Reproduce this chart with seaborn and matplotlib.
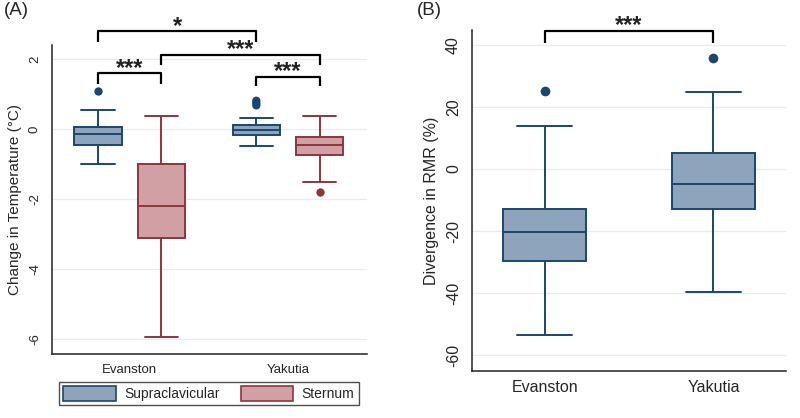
import pandas as pd
import seaborn as sns
import matplotlib.pyplot as plt
from matplotlib.patches import Patch

locations = ["Evanston", "Yakutia"]
sites = ["Supraclavicular", "Sternum"]

# panel A, change in temperature (°C): low whisker, Q1, median, Q3, high whisker
temp_evanston_supra = [-0.99, -0.45, -0.13, 0.07, 0.55]
temp_evanston_sternum = [-5.93, -3.10, -2.20, -0.99, 0.38]
temp_yakutia_supra = [-0.49, -0.18, -0.02, 0.11, 0.33]
temp_yakutia_sternum = [-1.51, -0.75, -0.46, -0.22, 0.38]
temp_out_evanston_supra = [1.10]
temp_out_yakutia_supra = [0.68, 0.74, 0.81]
temp_out_yakutia_sternum = [-1.79]

# panel B, divergence in RMR (%)
rmr_evanston = [-53.5, -29.8, -20.2, -12.9, 13.8]
rmr_yakutia = [-39.6, -13.0, -4.7, 5.2, 24.8]
rmr_out_evanston = [25.0]
rmr_out_yakutia = [35.7]

fill_colors = {"Supraclavicular": "#8ea4bc", "Sternum": "#d0a0a5"}
edge_colors = {"Supraclavicular": "#1a476f", "Sternum": "#90353b"}


def long_frame(pieces):
    rows = []
    for loc, site, vals in pieces:
        rows += [{"location": loc, "site": site, "value": v} for v in vals]
    return pd.DataFrame(rows)


def bracket(ax, x0, x1, y_top, y_leg, label, size=17):
    ax.plot([x0, x0, x1, x1], [y_leg, y_top, y_top, y_leg], color="black",
            lw=1.6, clip_on=False, solid_capstyle="butt")
    ax.annotate(label, xy=((x0 + x1) / 2, y_top), xytext=(0, -1),
                textcoords="offset points", ha="center", va="baseline",
                fontsize=size, fontweight="bold", color="#222222",
                annotation_clip=False)


sns.set_style("white")
plt.rcParams["font.family"] = ["Liberation Sans", "DejaVu Sans"]
plt.rcParams["axes.unicode_minus"] = False

fig = plt.figure(figsize=(8, 4.18), dpi=100)
ax_a = fig.add_axes([0.065, 0.153, 0.394, 0.739])
ax_b = fig.add_axes([0.590, 0.113, 0.3925, 0.815])

box_a = long_frame([
    ("Evanston", "Supraclavicular", temp_evanston_supra),
    ("Evanston", "Sternum", temp_evanston_sternum),
    ("Yakutia", "Supraclavicular", temp_yakutia_supra),
    ("Yakutia", "Sternum", temp_yakutia_sternum),
])
out_a = long_frame([
    ("Evanston", "Supraclavicular", temp_out_evanston_supra),
    ("Yakutia", "Supraclavicular", temp_out_yakutia_supra),
    ("Yakutia", "Sternum", temp_out_yakutia_sternum),
])

for site in sites:
    sns.boxplot(data=box_a[box_a["site"] == site], x="location", y="value",
                hue="site", order=locations, hue_order=sites,
                palette=fill_colors, linecolor=edge_colors[site],
                whis=(0, 100), width=0.8, gap=0.25, dodge=True,
                linewidth=1.4, saturation=1, legend=False, capwidths=0.21,
                ax=ax_a)
    sns.stripplot(data=out_a[out_a["site"] == site], x="location", y="value",
                  hue="site", order=locations, hue_order=sites,
                  palette=edge_colors, dodge=True, jitter=False, size=6,
                  legend=False, ax=ax_a)

box_b = long_frame([("Evanston", "all", rmr_evanston),
                    ("Yakutia", "all", rmr_yakutia)])
out_b = long_frame([("Evanston", "all", rmr_out_evanston),
                    ("Yakutia", "all", rmr_out_yakutia)])
sns.boxplot(data=box_b, x="location", y="value", order=locations,
            color=fill_colors["Supraclavicular"],
            linecolor=edge_colors["Supraclavicular"], whis=(0, 100),
            width=0.49, linewidth=1.4, saturation=1, capwidths=0.33, ax=ax_b)
sns.stripplot(data=out_b, x="location", y="value", order=locations,
              color=edge_colors["Supraclavicular"], jitter=False, size=7,
              ax=ax_b)

for ax, ylim, yticks, xlim, fs in [
        (ax_a, (-6.43, 2.4), [-6, -4, -2, 0, 2], (-0.49, 1.5), 9.5),
        (ax_b, (-65, 44.7), [-60, -40, -20, 0, 20, 40], (-0.43, 1.43), 11.5)]:
    ax.set_ylim(*ylim)
    ax.set_xlim(*xlim)
    ax.set_yticks(yticks)
    ax.set_yticklabels([str(t) for t in yticks])
    ax.yaxis.grid(True, color="#e0edf1", lw=0.9)
    ax.xaxis.grid(False)
    ax.set_axisbelow(True)
    for side in ["top", "right"]:
        ax.spines[side].set_visible(False)
    for side in ["left", "bottom"]:
        ax.spines[side].set_color("#222222")
        ax.spines[side].set_linewidth(1.1)
    ax.tick_params(axis="y", direction="out", length=5, width=1,
                   color="#222222", labelsize=fs, labelrotation=90, pad=3)
    ax.tick_params(axis="x", length=0, labelsize=fs, pad=7)
    for lab in ax.get_yticklabels():
        lab.set_va("center")
    ax.set_xlabel("")

ax_a.set_ylabel("Change in Temperature (°C)", fontsize=11, labelpad=5)
ax_b.set_ylabel("Divergence in RMR (%)", fontsize=11.5, labelpad=5)

# significance brackets
bracket(ax_a, -0.2, 0.8, 2.80, 2.49, "*")
bracket(ax_a, 0.2, 1.2, 2.12, 1.83, "***")
bracket(ax_a, -0.2, 0.2, 1.60, 1.29, "***")
bracket(ax_a, 0.8, 1.2, 1.49, 1.23, "***")
bracket(ax_b, 0, 1, 44.4, 40.5, "***")

handles = [Patch(facecolor=fill_colors[s], edgecolor=edge_colors[s], lw=1.2)
           for s in sites]
fig.legend(handles, sites, loc="center", bbox_to_anchor=(0.261, 0.0586),
           ncol=2, fontsize=10, frameon=True, fancybox=False,
           edgecolor="#222222", handlelength=3.8, handleheight=1.3,
           columnspacing=1.5, handletextpad=0.6, borderpad=0.3)

fig.text(0.005, 0.995, "(A)", fontsize=13.5, va="top", ha="left")
fig.text(0.521, 0.995, "(B)", fontsize=13.5, va="top", ha="left")

fig.savefig("out.png", dpi=100)
